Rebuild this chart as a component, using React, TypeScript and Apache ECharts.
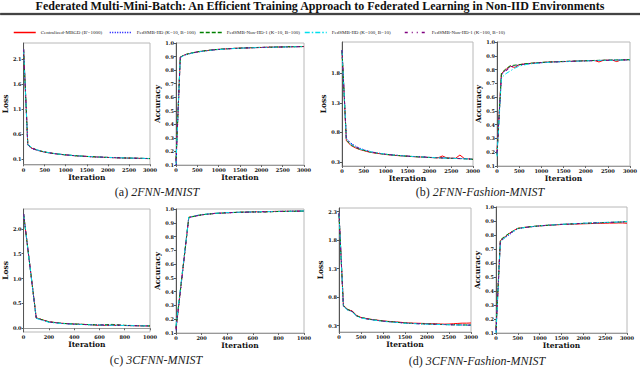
import React, { useEffect, useRef } from "react";
import * as echarts from "echarts";

const TITLE = "Federated Multi-Mini-Batch: An Efficient Training Approach to Federated Learning in Non-IID Environments";

const SERIES_NAMES = [
  "Centralized-MBGD (B'=1000)",
  "FedSMB-IID (K=10, B=100)",
  "FedSMB-Non-IID-1 (K=10, B=100)",
  "FedSMB-IID (K=100, B=10)",
  "FedSMB-Non-IID-1 (K=100, B=10)",
];

const CAPTION_LABELS = ["(a) ", "(b) ", "(c) ", "(d) "];
const CAPTION_NAMES = ["2FNN-MNIST", "2FNN-Fashion-MNIST", "3CFNN-MNIST", "3CFNN-Fashion-MNIST"];

const ITER_3000 = [0, 100, 200, 300, 400, 500, 600, 700, 800, 900, 1000, 1100, 1200, 1300, 1400, 1500, 1600, 1700, 1800, 1900, 2000, 2100, 2200, 2300, 2400, 2500, 2600, 2700, 2800, 2900, 3000];
const ITER_1000 = [0, 100, 200, 300, 400, 500, 600, 700, 800, 900, 1000];

const LOSS_TICKS_A = [0.1, 0.6, 1.1, 1.6, 2.1];
const LOSS_TICKS_B = [0.3, 0.8, 1.3, 1.8];
const LOSS_TICKS_C = [0.0, 0.5, 1.0, 1.5, 2.0];
const LOSS_TICKS_D = [0.3, 0.8, 1.3, 1.8, 2.3];

const A_LOSS = [
  [2.30, 0.39, 0.32, 0.29, 0.265, 0.245, 0.230, 0.217, 0.206, 0.197, 0.188, 0.180, 0.173, 0.167, 0.162, 0.157, 0.152, 0.148, 0.144, 0.140, 0.137, 0.134, 0.131, 0.129, 0.126, 0.124, 0.122, 0.120, 0.118, 0.116, 0.114],
  [2.30, 0.38, 0.31, 0.285, 0.262, 0.243, 0.229, 0.215, 0.205, 0.195, 0.187, 0.179, 0.172, 0.166, 0.161, 0.156, 0.151, 0.147, 0.143, 0.139, 0.136, 0.133, 0.130, 0.128, 0.125, 0.123, 0.121, 0.119, 0.117, 0.115, 0.113],
  [2.30, 0.39, 0.33, 0.292, 0.268, 0.247, 0.231, 0.218, 0.207, 0.198, 0.189, 0.181, 0.174, 0.168, 0.163, 0.158, 0.153, 0.149, 0.145, 0.141, 0.138, 0.135, 0.132, 0.129, 0.127, 0.125, 0.123, 0.121, 0.119, 0.117, 0.115],
  [2.30, 0.40, 0.33, 0.295, 0.270, 0.250, 0.233, 0.220, 0.209, 0.199, 0.190, 0.182, 0.175, 0.169, 0.163, 0.158, 0.154, 0.149, 0.145, 0.142, 0.139, 0.136, 0.133, 0.130, 0.128, 0.126, 0.124, 0.122, 0.120, 0.118, 0.116],
  [2.30, 0.39, 0.325, 0.291, 0.266, 0.246, 0.231, 0.218, 0.207, 0.198, 0.189, 0.181, 0.174, 0.168, 0.162, 0.157, 0.153, 0.149, 0.145, 0.141, 0.138, 0.135, 0.132, 0.130, 0.127, 0.125, 0.123, 0.121, 0.119, 0.117, 0.115],
];
const A_ACC = [
  [0.12, 0.895, 0.912, 0.921, 0.928, 0.934, 0.939, 0.943, 0.947, 0.950, 0.953, 0.955, 0.957, 0.959, 0.961, 0.962, 0.963, 0.964, 0.965, 0.966, 0.967, 0.968, 0.969, 0.970, 0.970, 0.971, 0.972, 0.972, 0.973, 0.973, 0.974],
  [0.10, 0.893, 0.911, 0.920, 0.927, 0.933, 0.938, 0.943, 0.946, 0.950, 0.952, 0.955, 0.957, 0.959, 0.960, 0.962, 0.963, 0.964, 0.965, 0.966, 0.967, 0.968, 0.969, 0.969, 0.970, 0.971, 0.971, 0.972, 0.973, 0.973, 0.974],
  [0.14, 0.896, 0.913, 0.922, 0.929, 0.935, 0.940, 0.944, 0.947, 0.951, 0.953, 0.956, 0.958, 0.959, 0.961, 0.962, 0.964, 0.965, 0.966, 0.967, 0.968, 0.968, 0.969, 0.970, 0.971, 0.971, 0.972, 0.973, 0.973, 0.974, 0.974],
  [0.11, 0.892, 0.910, 0.919, 0.927, 0.933, 0.938, 0.942, 0.946, 0.949, 0.952, 0.954, 0.956, 0.958, 0.960, 0.961, 0.963, 0.964, 0.965, 0.966, 0.967, 0.967, 0.968, 0.969, 0.970, 0.970, 0.971, 0.972, 0.972, 0.973, 0.973],
  [0.13, 0.894, 0.912, 0.921, 0.928, 0.934, 0.939, 0.943, 0.947, 0.950, 0.953, 0.955, 0.957, 0.959, 0.960, 0.962, 0.963, 0.964, 0.965, 0.966, 0.967, 0.968, 0.969, 0.970, 0.970, 0.971, 0.972, 0.972, 0.973, 0.973, 0.974],
];

const B_LOSS = [
  [2.19, 0.66, 0.58, 0.54, 0.51, 0.49, 0.47, 0.455, 0.445, 0.435, 0.425, 0.417, 0.41, 0.405, 0.40, 0.395, 0.39, 0.386, 0.382, 0.378, 0.374, 0.371, 0.368, 0.40, 0.366, 0.362, 0.36, 0.415, 0.358, 0.35, 0.342],
  [2.19, 0.70, 0.62, 0.57, 0.535, 0.505, 0.485, 0.465, 0.452, 0.44, 0.43, 0.421, 0.414, 0.408, 0.402, 0.397, 0.392, 0.388, 0.384, 0.38, 0.376, 0.373, 0.37, 0.367, 0.364, 0.361, 0.358, 0.356, 0.354, 0.35, 0.345],
  [2.18, 0.67, 0.59, 0.55, 0.515, 0.495, 0.475, 0.46, 0.448, 0.437, 0.428, 0.42, 0.413, 0.407, 0.401, 0.396, 0.391, 0.387, 0.383, 0.379, 0.375, 0.372, 0.369, 0.366, 0.363, 0.36, 0.357, 0.355, 0.352, 0.348, 0.343],
  [2.19, 0.68, 0.60, 0.555, 0.52, 0.50, 0.48, 0.462, 0.45, 0.439, 0.43, 0.421, 0.414, 0.408, 0.402, 0.396, 0.392, 0.388, 0.384, 0.38, 0.376, 0.372, 0.369, 0.366, 0.363, 0.361, 0.358, 0.356, 0.353, 0.349, 0.344],
  [2.19, 0.69, 0.61, 0.56, 0.525, 0.50, 0.482, 0.464, 0.451, 0.44, 0.431, 0.422, 0.415, 0.409, 0.403, 0.398, 0.393, 0.389, 0.385, 0.381, 0.377, 0.373, 0.37, 0.367, 0.364, 0.362, 0.359, 0.357, 0.354, 0.35, 0.345],
];
const B_ACC = [
  [0.20, 0.77, 0.80, 0.825, 0.815, 0.835, 0.84, 0.843, 0.846, 0.849, 0.851, 0.853, 0.855, 0.856, 0.857, 0.858, 0.859, 0.86, 0.862, 0.863, 0.864, 0.865, 0.866, 0.855, 0.867, 0.868, 0.869, 0.858, 0.87, 0.871, 0.872],
  [0.19, 0.765, 0.795, 0.82, 0.828, 0.834, 0.839, 0.842, 0.845, 0.848, 0.85, 0.852, 0.854, 0.855, 0.857, 0.858, 0.859, 0.86, 0.861, 0.862, 0.863, 0.864, 0.865, 0.866, 0.867, 0.867, 0.868, 0.869, 0.87, 0.87, 0.871],
  [0.18, 0.775, 0.805, 0.828, 0.832, 0.836, 0.84, 0.844, 0.847, 0.849, 0.852, 0.854, 0.855, 0.857, 0.858, 0.859, 0.86, 0.861, 0.862, 0.863, 0.864, 0.865, 0.866, 0.867, 0.868, 0.868, 0.869, 0.87, 0.87, 0.871, 0.872],
  [0.17, 0.74, 0.77, 0.79, 0.81, 0.825, 0.833, 0.839, 0.843, 0.846, 0.849, 0.851, 0.853, 0.855, 0.856, 0.857, 0.858, 0.86, 0.861, 0.862, 0.863, 0.864, 0.865, 0.866, 0.866, 0.867, 0.868, 0.869, 0.869, 0.87, 0.871],
  [0.19, 0.76, 0.79, 0.815, 0.825, 0.832, 0.837, 0.841, 0.845, 0.848, 0.85, 0.852, 0.854, 0.855, 0.857, 0.858, 0.859, 0.86, 0.861, 0.862, 0.863, 0.864, 0.865, 0.866, 0.867, 0.867, 0.868, 0.869, 0.87, 0.87, 0.871],
];

const C_LOSS = [
  [2.30, 0.21, 0.13, 0.10, 0.085, 0.075, 0.058, 0.06, 0.055, 0.05, 0.045],
  [2.30, 0.20, 0.125, 0.098, 0.083, 0.073, 0.066, 0.062, 0.056, 0.051, 0.047],
  [2.30, 0.21, 0.13, 0.10, 0.086, 0.076, 0.067, 0.078, 0.06, 0.053, 0.048],
  [2.30, 0.20, 0.12, 0.095, 0.082, 0.072, 0.064, 0.06, 0.055, 0.05, 0.046],
  [2.30, 0.205, 0.128, 0.099, 0.084, 0.074, 0.066, 0.072, 0.057, 0.052, 0.047],
];
const C_ACC = [
  [0.13, 0.94, 0.958, 0.968, 0.973, 0.976, 0.979, 0.981, 0.983, 0.984, 0.985],
  [0.12, 0.938, 0.957, 0.967, 0.972, 0.976, 0.978, 0.98, 0.982, 0.984, 0.985],
  [0.14, 0.939, 0.958, 0.967, 0.973, 0.977, 0.979, 0.978, 0.982, 0.983, 0.985],
  [0.15, 0.942, 0.96, 0.969, 0.974, 0.977, 0.979, 0.981, 0.983, 0.984, 0.986],
  [0.13, 0.94, 0.958, 0.968, 0.973, 0.976, 0.978, 0.98, 0.982, 0.984, 0.985],
];

const D_LOSS = [
  [2.27, 0.66, 0.58, 0.56, 0.48, 0.445, 0.43, 0.415, 0.405, 0.395, 0.385, 0.378, 0.372, 0.366, 0.36, 0.352, 0.348, 0.345, 0.343, 0.341, 0.338, 0.336, 0.334, 0.33, 0.328, 0.33, 0.335, 0.34, 0.345, 0.345, 0.348],
  [2.27, 0.64, 0.575, 0.55, 0.47, 0.44, 0.425, 0.41, 0.40, 0.39, 0.38, 0.372, 0.366, 0.36, 0.354, 0.345, 0.342, 0.339, 0.336, 0.333, 0.33, 0.327, 0.325, 0.322, 0.32, 0.318, 0.316, 0.315, 0.313, 0.312, 0.31],
  [2.26, 0.65, 0.585, 0.555, 0.475, 0.445, 0.428, 0.413, 0.402, 0.392, 0.382, 0.374, 0.368, 0.362, 0.356, 0.347, 0.344, 0.34, 0.337, 0.334, 0.331, 0.328, 0.326, 0.323, 0.321, 0.319, 0.317, 0.316, 0.314, 0.313, 0.312],
  [2.27, 0.64, 0.57, 0.545, 0.465, 0.438, 0.422, 0.408, 0.398, 0.388, 0.378, 0.37, 0.364, 0.358, 0.352, 0.344, 0.34, 0.337, 0.334, 0.331, 0.328, 0.326, 0.323, 0.321, 0.319, 0.317, 0.315, 0.313, 0.312, 0.31, 0.309],
  [2.27, 0.655, 0.58, 0.55, 0.47, 0.442, 0.426, 0.411, 0.40, 0.39, 0.38, 0.373, 0.367, 0.361, 0.355, 0.346, 0.343, 0.339, 0.336, 0.333, 0.33, 0.327, 0.325, 0.322, 0.32, 0.318, 0.316, 0.314, 0.313, 0.311, 0.31],
];
const D_ACC = [
  [0.12, 0.76, 0.785, 0.81, 0.83, 0.848, 0.852, 0.856, 0.859, 0.862, 0.865, 0.867, 0.869, 0.871, 0.873, 0.875, 0.876, 0.877, 0.878, 0.879, 0.88, 0.881, 0.882, 0.883, 0.884, 0.884, 0.885, 0.885, 0.886, 0.886, 0.884],
  [0.11, 0.755, 0.78, 0.80, 0.825, 0.845, 0.85, 0.855, 0.858, 0.862, 0.865, 0.868, 0.87, 0.872, 0.874, 0.876, 0.877, 0.879, 0.88, 0.882, 0.883, 0.884, 0.885, 0.887, 0.888, 0.889, 0.89, 0.891, 0.892, 0.893, 0.895],
  [0.13, 0.765, 0.79, 0.812, 0.83, 0.847, 0.852, 0.856, 0.86, 0.863, 0.866, 0.868, 0.87, 0.872, 0.874, 0.876, 0.877, 0.879, 0.88, 0.882, 0.883, 0.884, 0.886, 0.887, 0.888, 0.889, 0.89, 0.891, 0.892, 0.894, 0.896],
  [0.10, 0.75, 0.78, 0.805, 0.827, 0.846, 0.851, 0.855, 0.859, 0.862, 0.865, 0.867, 0.87, 0.872, 0.874, 0.876, 0.878, 0.879, 0.881, 0.882, 0.884, 0.885, 0.886, 0.887, 0.889, 0.89, 0.891, 0.892, 0.893, 0.894, 0.896],
  [0.12, 0.76, 0.785, 0.808, 0.828, 0.846, 0.851, 0.855, 0.859, 0.862, 0.865, 0.868, 0.87, 0.872, 0.874, 0.876, 0.877, 0.879, 0.88, 0.882, 0.883, 0.885, 0.886, 0.887, 0.888, 0.889, 0.89, 0.891, 0.893, 0.894, 0.895],
];

const COLORS = ["#ff0000", "#0000ff", "#008000", "#00e0ee", "#800080"];
const DASHES: any[] = ["solid", [1, 1.5], [4, 2], [5, 2, 1.5, 2], [3, 4, 1, 4, 1, 4]];

const SERIF = "Liberation Serif";
const TICK_FONT = "DejaVu Serif";

type Panel = {
  grid: { left: number; top: number; width: number; height: number };
  xs: number[];
  xMax: number;
  xInterval: number;
  ys: number[][];
  yName: string;
  yMin: number;
  yMax: number;
  yTicks?: number[];
  yNameGap: number;
};

const PANELS: Panel[] = [
  { grid: { left: 22, top: 43, width: 128, height: 122 }, xs: ITER_3000, xMax: 3000, xInterval: 500, ys: A_LOSS, yName: "Loss", yMin: -0.014, yMax: 2.426, yTicks: LOSS_TICKS_A, yNameGap: 13 },
  { grid: { left: 176, top: 43, width: 128, height: 122 }, xs: ITER_3000, xMax: 3000, xInterval: 500, ys: A_ACC, yName: "Accuracy", yMin: 0.1, yMax: 1.0, yNameGap: 14 },
  { grid: { left: 342, top: 42, width: 131, height: 124 }, xs: ITER_3000, xMax: 3000, xInterval: 500, ys: B_LOSS, yName: "Loss", yMin: 0.23, yMax: 2.33, yTicks: LOSS_TICKS_B, yNameGap: 13 },
  { grid: { left: 497, top: 42, width: 133, height: 124 }, xs: ITER_3000, xMax: 3000, xInterval: 500, ys: B_ACC, yName: "Accuracy", yMin: 0.1, yMax: 1.0, yNameGap: 14 },
  { grid: { left: 22, top: 209, width: 128, height: 123 }, xs: ITER_1000, xMax: 1000, xInterval: 200, ys: C_LOSS, yName: "Loss", yMin: -0.075, yMax: 2.4, yTicks: LOSS_TICKS_C, yNameGap: 13 },
  { grid: { left: 176, top: 209, width: 128, height: 124 }, xs: ITER_1000, xMax: 1000, xInterval: 200, ys: C_ACC, yName: "Accuracy", yMin: 0.1, yMax: 1.0, yNameGap: 14 },
  { grid: { left: 339, top: 208, width: 132, height: 124 }, xs: ITER_3000, xMax: 3000, xInterval: 500, ys: D_LOSS, yName: "Loss", yMin: 0.19, yMax: 2.365, yTicks: LOSS_TICKS_D, yNameGap: 13 },
  { grid: { left: 496, top: 207, width: 131, height: 126 }, xs: ITER_3000, xMax: 3000, xInterval: 500, ys: D_ACC, yName: "Accuracy", yMin: 0.1, yMax: 1.0, yNameGap: 14 },
];

const CAPTION_POS = [
  { x: 157, y: 192 },
  { x: 480, y: 192 },
  { x: 156, y: 360 },
  { x: 477, y: 361 },
];

const LEGEND_LEFT = [13, 109, 199, 304, 404];

export default function App() {
  const ref = useRef<HTMLDivElement>(null);

  useEffect(() => {
    if (!ref.current) return;
    const chart = echarts.init(ref.current, null, { renderer: "svg" });

    const tickLabel = { fontFamily: TICK_FONT, fontWeight: "bold" as const, fontSize: 5, color: "#111" };
    const axisName = { fontFamily: TICK_FONT, fontWeight: "bold" as const, fontSize: 7.5, color: "#111" };

    const grids: any[] = PANELS.map((p) => ({
      ...p.grid,
      show: true,
      borderColor: "#b8b8b8",
      borderWidth: 1,
      backgroundColor: "#fff",
      containLabel: false,
    }));

    const xAxes: any[] = PANELS.map((p, i) => ({
      type: "value",
      gridIndex: i,
      min: 0,
      max: p.xMax,
      interval: p.xInterval,
      name: "Iteration",
      nameLocation: "middle",
      nameGap: 8,
      nameTextStyle: axisName,
      axisLine: { show: true, lineStyle: { color: "#999", width: 1 } },
      axisTick: { show: true, length: 2, lineStyle: { color: "#666" } },
      axisLabel: { ...tickLabel, margin: 2, formatter: (v: number) => String(v) },
      splitLine: { show: false },
    }));

    const yAxes: any[] = PANELS.map((p, i) => {
      const ax: any = {
        type: "value",
        gridIndex: i,
        min: p.yMin,
        max: p.yMax,
        name: p.yName,
        nameLocation: "middle",
        nameGap: p.yNameGap,
        nameTextStyle: axisName,
        axisLine: { show: true, lineStyle: { color: "#555", width: 1 } },
        axisTick: { show: true, length: 2, lineStyle: { color: "#555" } },
        axisLabel: { ...tickLabel, margin: 2, formatter: (v: number) => v.toFixed(1) },
        splitLine: { show: false },
      };
      if (p.yTicks) {
        ax.axisLabel.customValues = p.yTicks;
        ax.axisTick.customValues = p.yTicks;
      } else {
        ax.interval = 0.1;
      }
      return ax;
    });

    const series: any[] = [];
    PANELS.forEach((p, gi) => {
      p.ys.forEach((vals, si) => {
        series.push({
          type: "line",
          name: SERIES_NAMES[si],
          xAxisIndex: gi,
          yAxisIndex: gi,
          data: p.xs.map((x, k) => [x, vals[k]]),
          symbol: "none",
          showSymbol: false,
          clip: true,
          lineStyle: { color: COLORS[si], width: 1, type: DASHES[si] },
          itemStyle: { color: COLORS[si] },
          z: 2 + si,
        });
      });
    });

    const legends = SERIES_NAMES.map((n, i) => ({
      data: [n],
      left: LEGEND_LEFT[i],
      top: 30,
      padding: 0,
      itemGap: 0,
      itemWidth: 22,
      itemHeight: 5,
      selectedMode: false,
      textStyle: { fontFamily: SERIF, fontSize: 5, color: "#222" },
      lineStyle: { width: 1.5 },
      itemStyle: { opacity: 0 },
    }));

    const graphics: any[] = [
      {
        type: "rect",
        left: 0,
        top: 13,
        z: 100,
        shape: { x: 0, y: 0, width: 640, height: 1.5 },
        style: { fill: "#222", stroke: "#222", lineWidth: 0.5 },
      },
      ...CAPTION_POS.map((c, i) => ({
        type: "text",
        x: c.x,
        y: c.y,
        style: {
          text: `{n|${CAPTION_LABELS[i]}}{i|${CAPTION_NAMES[i]}}`,
          rich: {
            n: { fontFamily: SERIF, fontSize: 12, fontStyle: "normal", fill: "#222" },
            i: { fontFamily: SERIF, fontSize: 12, fontStyle: "italic", fill: "#222" },
          },
          fontFamily: SERIF,
          fontSize: 12,
          fill: "#222",
          align: "center",
          verticalAlign: "middle",
        },
      })),
    ];

    chart.setOption({
      animation: false,
      backgroundColor: "#fff",
      title: {
        text: TITLE,
        left: "center",
        top: 0,
        padding: 0,
        textStyle: { fontFamily: SERIF, fontWeight: "bold", fontSize: 12, lineHeight: 12, color: "#111" },
      },
      legend: legends,
      grid: grids,
      xAxis: xAxes,
      yAxis: yAxes,
      series,
      graphic: graphics,
    });

    return () => chart.dispose();
  }, []);

  return <div ref={ref} style={{ position: "absolute", left: 0, top: 0, width: 640, height: 369 }} />;
}
